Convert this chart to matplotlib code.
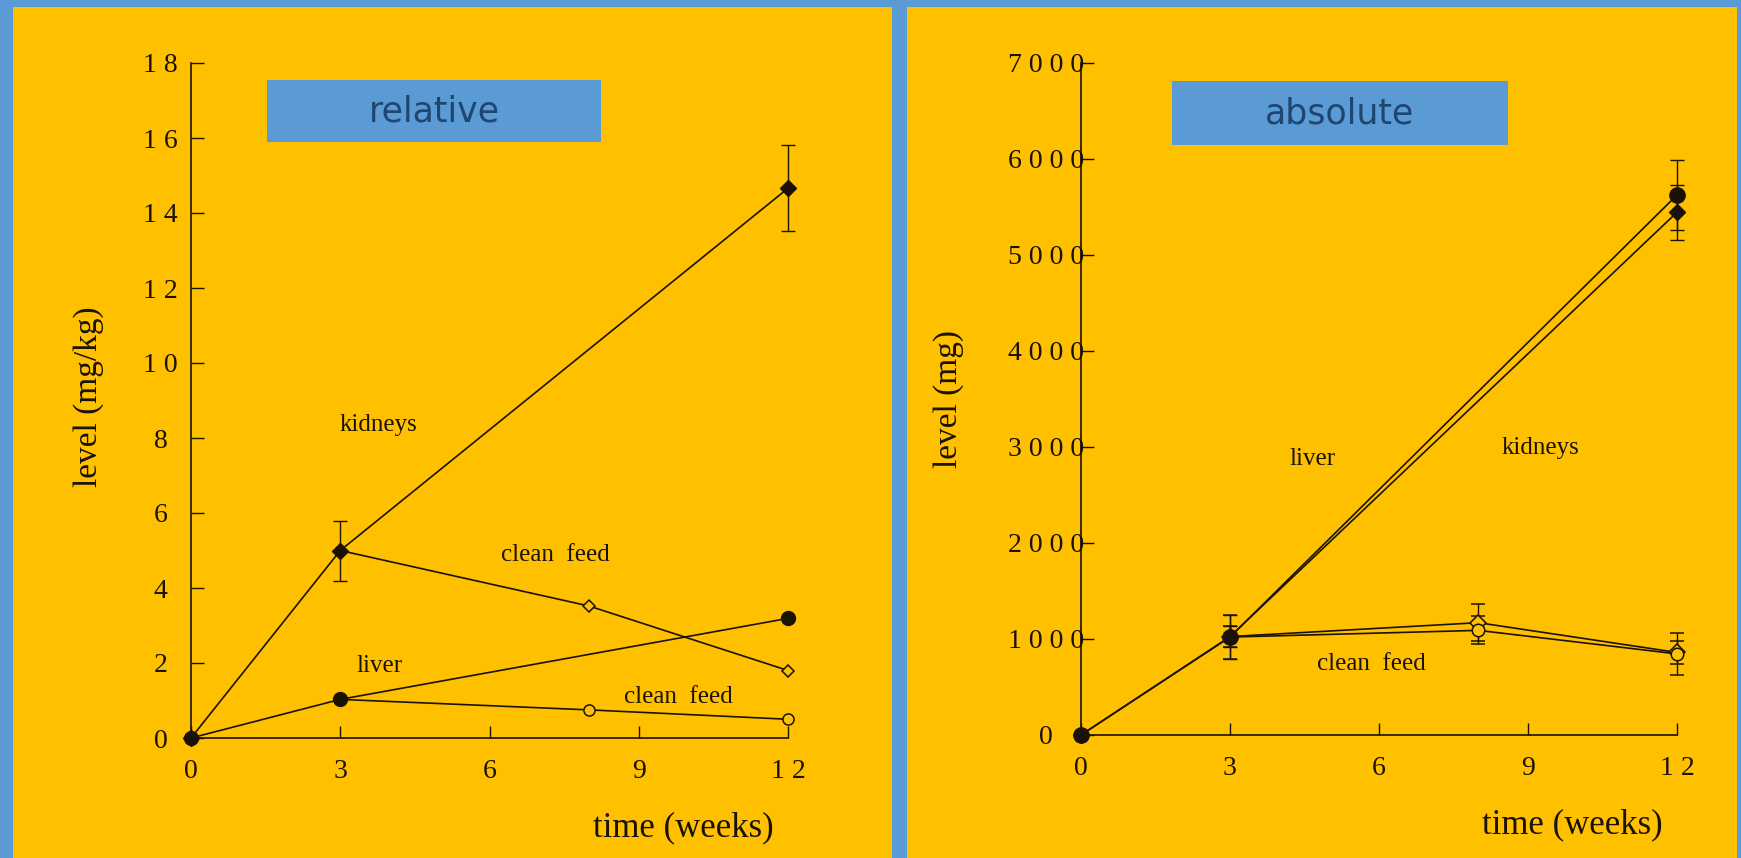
import matplotlib.pyplot as plt
from matplotlib.patches import Rectangle

# ---- data ----
weeks_exposed = [0, 3, 12]
weeks_clean = [3, 8, 12]

# relative levels (mg/kg)
rel_kidney = [0, 5.0, 14.66]
rel_kidney_err = [0, 0.8, 1.15]
rel_kidney_clean = [5.0, 3.52, 1.80]
rel_liver = [0, 1.03, 3.19]
rel_liver_clean = [1.03, 0.75, 0.50]

# absolute levels (mg)
abs_liver = [0, 1020, 5625]
abs_liver_err = [0, 230, 365]
abs_kidney = [0, 1025, 5445]
abs_kidney_err = [0, 112, 285]
abs_liver_clean = [1020, 1090, 845]
abs_liver_clean_err = [230, 145, 220]
abs_kidney_clean = [1025, 1170, 860]
abs_kidney_clean_err = [112, 195, 118]

x_ticks = [0, 3, 6, 9, 12]
x_ticklabels = ['0', '3', '6', '9', '1 2']
rel_yticks = [0, 2, 4, 6, 8, 10, 12, 14, 16, 18]
rel_yticklabels = ['0', '2', '4', '6', '8', '1 0', '1 2', '1 4', '1 6', '1 8']
abs_yticks = [0, 1000, 2000, 3000, 4000, 5000, 6000, 7000]
abs_yticklabels = ['0', '1 0 0 0', '2 0 0 0', '3 0 0 0', '4 0 0 0',
                   '5 0 0 0', '6 0 0 0', '7 0 0 0']

ORANGE = '#FFC000'
BLUE = '#5B9BD5'
INK = '#1a1206'
SERIF = 'Liberation Serif'

W, H = 1741, 858
fig = plt.figure(figsize=(W / 100, H / 100), dpi=100, facecolor=BLUE)


def px_rect(x0, y0, x1, y1):
    # pixel box (top-left origin) -> figure fraction
    return (x0 / W, 1 - y1 / H, (x1 - x0) / W, (y1 - y0) / H)


# orange panels
for box in [(13, 7, 892, 858), (907, 7, 1737, 858)]:
    l, b, w, h = px_rect(*box)
    fig.add_artist(Rectangle((l, b), w, h, transform=fig.transFigure,
                             facecolor=ORANGE, edgecolor='none', zorder=0))

# title boxes
for box, label in [((267, 80, 601, 142), 'relative'),
                   ((1172, 81, 1508, 145), 'absolute')]:
    l, b, w, h = px_rect(*box)
    fig.add_artist(Rectangle((l, b), w, h, transform=fig.transFigure,
                             facecolor=BLUE, edgecolor='none', zorder=1))
    fig.text(l + w / 2, b + h / 2, label, ha='center', va='center',
             fontsize=25, color='#1f4670', family='DejaVu Sans', zorder=2)

ax1 = fig.add_axes(px_rect(191, 63, 788, 738))
ax2 = fig.add_axes(px_rect(1081, 63, 1677, 735))


def style_axis(ax, yticks, yticklabels, ymax, ypad):
    ax.set_facecolor('none')
    ax.set_xlim(0, 12)
    ax.set_ylim(0, ymax)
    for side in ['top', 'right']:
        ax.spines[side].set_visible(False)
    for side in ['left', 'bottom']:
        ax.spines[side].set_color(INK)
        ax.spines[side].set_linewidth(1.2)
    ax.set_xticks(x_ticks, x_ticklabels)
    ax.set_yticks(yticks, yticklabels)
    ax.tick_params(axis='both', direction='in', length=9, width=1,
                   color=INK, labelcolor=INK, labelsize=20)
    ax.tick_params(axis='x', pad=15)
    ax.tick_params(axis='y', pad=ypad)
    for lbl in ax.get_xticklabels() + ax.get_yticklabels():
        lbl.set_family(SERIF)
    for lbl in ax.get_yticklabels():
        lbl.set_ha('center')


line_kw = dict(color=INK, linewidth=1.2, clip_on=False)
filled = dict(markerfacecolor=INK, markeredgecolor=INK)
hollow = dict(markerfacecolor=ORANGE, markeredgecolor=INK, markeredgewidth=1.1)
err_kw = dict(ecolor=INK, elinewidth=1, capsize=5, capthick=1)

# ---------------- relative ----------------
ax1.errorbar(weeks_exposed, rel_kidney, yerr=rel_kidney_err, marker='D',
             markersize=8, **filled, **line_kw, **err_kw, zorder=3)
ax1.plot(weeks_clean, rel_kidney_clean, marker='D', markersize=6.5,
         **hollow, **line_kw, zorder=3)
ax1.plot(weeks_exposed, rel_liver, marker='o', markersize=10,
         **filled, **line_kw, zorder=4)
ax1.plot(weeks_clean, rel_liver_clean, marker='o', markersize=8,
         **hollow, **line_kw, zorder=3)
style_axis(ax1, rel_yticks, rel_yticklabels, 18, 22)

txt = dict(family=SERIF, fontsize=18, color=INK, ha='center', va='center')
ax1.text(3.76, 8.35, 'kidneys', **txt)
ax1.text(7.32, 4.88, 'clean  feed', **txt)
ax1.text(3.79, 1.92, 'liver', **txt)
ax1.text(9.79, 1.09, 'clean  feed', **txt)

fig.text(89 / W, 1 - 397 / H, 'level (mg/kg)', rotation=90, ha='center',
         va='center', family=SERIF, fontsize=24, color=INK)
fig.text(683 / W, 1 - 828 / H, 'time (weeks)', ha='center', va='center',
         family=SERIF, fontsize=25, color=INK)

# ---------------- absolute ----------------
ax2.errorbar(weeks_exposed, abs_kidney, yerr=abs_kidney_err, marker='D',
             markersize=8, **filled, **line_kw, **err_kw, zorder=3)
ax2.errorbar(weeks_clean, abs_kidney_clean, yerr=abs_kidney_clean_err,
             marker='D', markersize=8, **hollow, **line_kw, **err_kw, zorder=3)
ax2.errorbar(weeks_clean, abs_liver_clean, yerr=abs_liver_clean_err,
             marker='o', markersize=9, **hollow, **line_kw, **err_kw, zorder=3)
ax2.errorbar(weeks_exposed, abs_liver, yerr=abs_liver_err, marker='o',
             markersize=11, **filled, **line_kw, **err_kw, zorder=4)
style_axis(ax2, abs_yticks, abs_yticklabels, 7000, 25)

ax2.text(4.67, 2875, 'liver', **txt)
ax2.text(9.26, 2990, 'kidneys', **txt)
ax2.text(5.84, 740, 'clean  feed', **txt)

fig.text(949 / W, 1 - 399 / H, 'level (mg)', rotation=90, ha='center',
         va='center', family=SERIF, fontsize=24, color=INK)
fig.text(1572 / W, 1 - 825 / H, 'time (weeks)', ha='center', va='center',
         family=SERIF, fontsize=25, color=INK)

fig.savefig('out.png', dpi=100, facecolor=BLUE)
